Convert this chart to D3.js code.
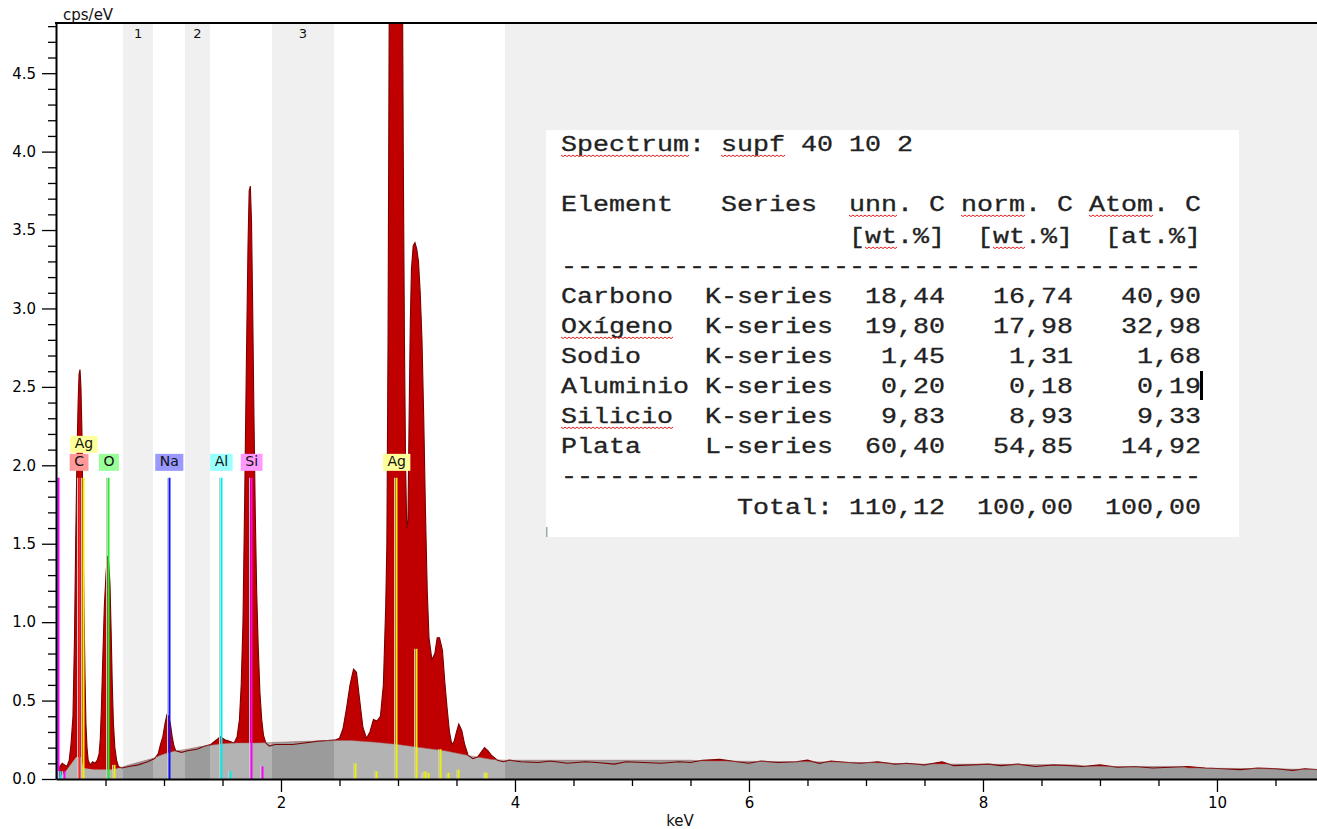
<!DOCTYPE html>
<html>
<head>
<meta charset="utf-8">
<script src="https://cdn.jsdelivr.net/npm/d3@7"></script>
<style>
body{margin:0;background:#fff;}
svg{display:block;font-family:"DejaVu Sans",Verdana,sans-serif;}
</style>
</head>
<body>
<div class="bod"></div>
<script>
const specKeV = [0.08,0.09,0.11,0.13,0.15,0.17,0.19,0.205,0.222,0.235,0.245,0.256,0.266,0.274,0.282,0.29,0.299,0.308,0.316,0.325,0.333,0.342,0.352,0.37,0.39,0.41,0.43,0.445,0.455,0.465,0.478,0.49,0.504,0.515,0.525,0.538,0.548,0.558,0.568,0.58,0.595,0.61,0.64,
  0.70,0.78,0.86,0.92,0.95,0.97,0.99,1.01,1.025,1.04,1.055,1.07,1.085,1.10,1.15,1.20,1.28,1.35,1.40,1.45,1.48,1.52,1.56,1.60,1.625,1.645,1.66,1.675,1.69,1.705,1.718,1.728,1.738,1.748,1.758,1.769,1.78,1.792,1.805,1.82,1.835,1.85,1.87,1.90,1.95,2.0,2.1,2.2,2.3,2.4,2.47,
  2.50,2.53,2.56,2.59,2.62,2.645,2.67,2.70,2.73,2.76,2.79,2.82,2.85,2.875,2.895,2.905,2.915,2.925,2.935,2.95,2.98,3.01,3.035,3.045,3.055,3.065,3.075,3.085,3.095,3.105,3.115,3.13,3.145,3.16,3.175,3.19,3.205,3.22,3.235,3.25,3.265,3.29,3.315,3.335,3.355,3.38,3.40,3.42,3.44,3.46,3.48,3.50,3.52,3.545,3.57,3.60,3.64,3.68,3.71,3.74,3.77,3.80,3.85,3.90,
  3.95,4.05,4.2,4.3,4.45,4.6,4.7,4.85,4.95,5.1,5.25,5.4,5.5,5.6,5.75,5.9,6.0,6.1,6.25,6.4,6.5,6.6,6.7,6.85,6.95,7.1,7.25,7.35,7.5,7.65,7.75,7.9,8.05,8.15,8.3,8.45,8.6,8.75,8.85,9.0,9.15,9.3,9.45,9.6,9.75,9.9,10.05,10.2,10.35,10.5,10.65,10.75,10.86]
const specCps = [0,0.02,0.08,0.10,0.09,0.08,0.12,0.22,0.40,0.90,1.50,2.05,2.40,2.58,2.61,2.50,2.20,1.60,1.10,0.65,0.35,0.20,0.12,0.09,0.11,0.10,0.12,0.16,0.25,0.45,0.80,1.10,1.30,1.42,1.40,1.25,0.95,0.60,0.35,0.20,0.12,0.08,0.07,
  0.08,0.09,0.11,0.13,0.16,0.22,0.27,0.36,0.41,0.40,0.35,0.27,0.21,0.18,0.17,0.18,0.19,0.21,0.22,0.25,0.27,0.25,0.24,0.23,0.27,0.38,0.60,1.0,1.8,2.7,3.4,3.75,3.78,3.55,3.0,2.3,1.7,1.2,0.85,0.55,0.38,0.28,0.23,0.21,0.22,0.22,0.22,0.23,0.24,0.245,0.25,
  0.26,0.32,0.45,0.60,0.70,0.68,0.52,0.33,0.26,0.30,0.38,0.37,0.40,0.60,1.10,1.5,2.8,4.9,6.2,6.8,7.0,6.6,5.6,4.0,2.8,2.0,1.6,1.65,2.3,2.9,3.25,3.4,3.42,3.38,3.3,3.1,2.8,2.3,1.7,1.2,0.9,0.76,0.8,0.9,0.90,0.82,0.62,0.45,0.30,0.22,0.24,0.30,0.35,0.31,0.22,0.15,0.13,0.14,0.17,0.20,0.18,0.15,0.12,0.11,0.12,
  0.11,0.105,0.115,0.10,0.11,0.105,0.095,0.11,0.105,0.10,0.11,0.105,0.12,0.125,0.11,0.10,0.115,0.105,0.11,0.12,0.10,0.115,0.105,0.10,0.11,0.095,0.10,0.09,0.11,0.085,0.09,0.095,0.085,0.095,0.08,0.09,0.085,0.08,0.09,0.075,0.08,0.07,0.075,0.08,0.07,0.065,0.06,0.07,0.065,0.055,0.065,0.06,0.055]

//fitted background
const bgKeV = [0.08,0.10,0.15,0.20,0.25,0.29,0.31,0.40,0.55,0.62,0.70,0.80,0.90,1.00,1.10,1.20,1.30,1.40,1.50,1.60,1.80,2.0,2.2,2.45,2.6,2.8,3.0,3.2,3.4,3.6,3.8,3.92,4.5,5.5,5.6,6.5,7.0,7.4,8.0,8.8,8.9,9.7,9.75,10.5,10.86]
const bgCps = [0,0.01,0.04,0.09,0.14,0.14,0.07,0.06,0.06,0.07,0.09,0.11,0.13,0.16,0.18,0.19,0.205,0.215,0.225,0.23,0.23,0.235,0.24,0.245,0.245,0.235,0.22,0.20,0.18,0.15,0.125,0.12,0.12,0.12,0.115,0.11,0.105,0.095,0.095,0.09,0.08,0.08,0.07,0.065,0.06]

//regions
const bandName = ['1','2','3','']
const bandStart = [0.65,1.179,1.923,3.915]
const bandEnd = [0.906,1.393,2.453,10.86]

//element line markers
const markerEl = ['Al','Si','Al','Si','C','Ag','O','Ag','Na','Al','Al','Si','Si','Ag','Ag','Ag','Ag','Ag','Ag','Ag','Ag','Ag','Ag','Ag','Ag']
const markerKeV = [0.083,0.092,0.111,0.145,0.270,0.311,0.525,0.573,1.041,1.486,1.564,1.745,1.838,2.632,2.812,2.984,3.154,3.214,3.231,3.256,3.359,3.427,3.513,3.744,3.752]
const markerCps = [1.92,1.92,0.05,0.05,1.92,1.92,1.92,0.09,1.92,1.92,0.05,1.92,0.08,0.10,0.05,1.92,0.83,0.04,0.05,0.04,0.19,0.04,0.06,0.04,0.04]

const labelEl = ['Ag','C','O','Na','Al','Si','Ag']
const labelKeV = [0.311,0.270,0.525,1.041,1.486,1.745,2.984]
const labelLevel = [1,0,0,0,0,0,0]

const yMajor = [0,0.5,1,1.5,2,2.5,3,3.5,4,4.5]
const xMajor = [2,4,6,8,10]
const xMinor = [0.5,1,1.5,2.5,3,3.5,4.5,5,5.5,6.5,7,7.5,8.5,9,9.5,10.5]

//quantification table
const tblTitle = 'Spectrum: supf 40 10 2'
const tblElement = ['Carbono','Oxígeno','Sodio','Aluminio','Silicio','Plata']
const tblSeries = ['K-series','K-series','K-series','K-series','K-series','L-series']
const tblUnn = ['18,44','19,80','1,45','0,20','9,83','60,40']
const tblNorm = ['16,74','17,98','1,31','0,18','8,93','54,85']
const tblAtom = ['40,90','32,98','1,68','0,19','9,33','14,92']
const tblTotal = ['110,12','100,00','100,00']

const elColor = {
  Ag:{line:'#f0f000',box:'#ffff99'},
  C:{line:'#ff2a2a',box:'#ff9999'},
  O:{line:'#22ee22',box:'#99ff99'},
  Na:{line:'#1010ff',box:'#9999ff'},
  Al:{line:'#00eeee',box:'#99ffff'},
  Si:{line:'#ff00ff',box:'#ff99ff'}
}

const W = 1317, H = 829
const plot = {left:56, right:1317, top:23, bottom:779}

const svg = d3.select('.bod').append('svg')
  .attr('width',W).attr('height',H)

const x = d3.scaleLinear().domain([0.0769,10.855]).range([plot.left,plot.right])
const y = d3.scaleLinear().domain([0,4.82]).range([plot.bottom,plot.top])

const defs = svg.append('defs')
defs.append('clipPath').attr('id','plotClip')
  .append('rect').attr('x',plot.left).attr('y',plot.top)
  .attr('width',plot.right-plot.left).attr('height',plot.bottom-plot.top)
defs.append('clipPath').attr('id','bandClip')
  .selectAll('rect').data(bandStart).enter().append('rect')
  .attr('x',(d)=>x(d)).attr('y',plot.top)
  .attr('width',(d,i)=>x(bandEnd[i])-x(d)).attr('height',plot.bottom-plot.top)

const g = svg.append('g').attr('clip-path','url(#plotClip)')
g.append('rect').attr('x',plot.left).attr('y',plot.top)
  .attr('width',plot.right-plot.left).attr('height',plot.bottom-plot.top).attr('fill','#fff')
g.selectAll('.band').data(bandStart).enter().append('rect')
  .attr('class','band')
  .attr('x',(d)=>x(d)).attr('y',plot.top)
  .attr('width',(d,i)=>x(bandEnd[i])-x(d)).attr('height',plot.bottom-plot.top)
  .attr('fill','#f0f0f0')

const spec = specKeV.map((k,i)=>[k,specCps[i]])
const bg = bgKeV.map((k,i)=>[k,bgCps[i]])
const area = d3.area().x(d=>x(d[0])).y0(y(0)).y1(d=>y(d[1]))
const line = d3.line().x(d=>x(d[0])).y(d=>y(d[1]))

//spectrum fill
g.append('path').datum(spec).attr('d',area).attr('fill','#c00000')
//background fill, darker inside the regions
g.append('path').datum(bg).attr('d',area).attr('fill','#b3b3b3')
g.append('path').datum(bg).attr('d',area).attr('fill','#9b9b9b').attr('clip-path','url(#bandClip)')
//spectrum outline
g.append('path').datum(spec).attr('d',line).attr('fill','none')
  .attr('stroke','#7a0000').attr('stroke-width',1.1)
g.append('path').datum(bg.filter(d=>d[0]>0.6)).attr('d',line).attr('fill','none')
  .attr('stroke','#a06060').attr('stroke-width',0.8).attr('opacity',0.6)

//marker lines
const markers = g.selectAll('.marker').data(markerKeV).enter().append('g').attr('class','marker')
markers.append('line')
  .attr('x1',d=>Math.round(x(d))-1.5).attr('x2',d=>Math.round(x(d))-1.5)
  .attr('y1',y(0)).attr('y2',(d,i)=>y(markerCps[i]))
  .attr('stroke','#c8c8c8').attr('stroke-width',1)
markers.append('line')
  .attr('x1',d=>Math.round(x(d))+0.5).attr('x2',d=>Math.round(x(d))+0.5)
  .attr('y1',y(0)).attr('y2',(d,i)=>y(markerCps[i]))
  .attr('stroke',(d,i)=>elColor[markerEl[i]].line).attr('stroke-width',2)

//element labels
const labels = svg.selectAll('.lab').data(labelKeV).enter().append('g').attr('class','lab')
labels.append('rect')
labels.append('text')
  .attr('x',d=>x(d)+0.5)
  .attr('y',(d,i)=>y(1.92)-12-labelLevel[i]*18)
  .attr('text-anchor','middle')
  .attr('font-size',14)
  .attr('fill','#111')
  .text((d,i)=>labelEl[i])
labels.each(function(d,i){
  const t = d3.select(this).select('text')
  const w = t.node().getComputedTextLength()+9
  d3.select(this).select('rect')
    .attr('x',x(d)+0.5-w/2).attr('y',y(1.92)-24-labelLevel[i]*18)
    .attr('width',w).attr('height',17)
    .attr('fill',elColor[labelEl[i]].box)
})

//region numbers
svg.selectAll('.bandName').data(bandStart).enter().append('text')
  .attr('x',(d,i)=>(x(d)+x(bandEnd[i]))/2)
  .attr('y',38)
  .attr('text-anchor','middle').attr('font-size',13).attr('fill','#111')
  .text((d,i)=>bandName[i])

//axes
svg.append('g').attr('transform',`translate(${plot.left},0)`)
  .call(d3.axisLeft(y).tickValues(yMajor).tickSize(14).tickSizeOuter(0).tickPadding(6).tickFormat(d3.format('.1f')))
const yMinor = d3.range(1,49).filter(v=>v%5!=0).map(v=>v/10)
svg.append('g').attr('transform',`translate(${plot.left},0)`)
  .call(d3.axisLeft(y).tickValues(yMinor).tickSize(8).tickFormat(''))
  .call(a=>a.select('.domain').remove())
svg.append('g').attr('transform',`translate(0,${plot.bottom})`)
  .call(d3.axisBottom(x).tickValues(xMajor).tickSize(13).tickSizeOuter(0).tickPadding(5).tickFormat(d3.format('d')))
svg.append('g').attr('transform',`translate(0,${plot.bottom})`)
  .call(d3.axisBottom(x).tickValues(xMinor).tickSize(7).tickFormat(''))
  .call(a=>a.select('.domain').remove())
svg.selectAll('.tick text').attr('font-size',15).attr('font-family','"DejaVu Sans",Verdana,sans-serif').attr('fill','#000')
svg.selectAll('.tick line').attr('stroke','#000').attr('stroke-width',1.3)
svg.selectAll('.domain').attr('stroke','#000').attr('stroke-width',2)
//top frame
svg.append('line').attr('x1',plot.left-1).attr('x2',plot.right).attr('y1',plot.top).attr('y2',plot.top)
  .attr('stroke','#000').attr('stroke-width',2)

svg.append('text').attr('x',63).attr('y',20).attr('font-size',15).attr('fill','#111').text('cps/eV')
svg.append('text').attr('x',680).attr('y',826).attr('text-anchor','middle').attr('font-size',15).attr('fill','#111').text('keV')

//quantification table (pasted text box)
const tb = svg.append('g')
tb.append('rect').attr('x',546).attr('y',130).attr('width',693).attr('height',407).attr('fill','#fff')
tb.append('rect').attr('x',546).attr('y',527).attr('width',1.5).attr('height',10).attr('fill','#9aa')
const cw = 16, tx = 561
const pad = (s,n)=>s.padEnd(n,' ')
const lpad = (s,n)=>s.padStart(n,' ')
const rows = [
  [tblTitle,151],
  ['Element   Series  unn. C norm. C Atom. C',211],
  ['                  [wt.%]  [wt.%]  [at.%]',243],
  ['-'.repeat(40),273],
]
tblElement.forEach((e,i)=>{
  rows.push([pad(e,9)+tblSeries[i]+lpad(tblUnn[i],7)+lpad(tblNorm[i],8)+lpad(tblAtom[i],8),303+i*30])
})
rows.push(['-'.repeat(40),483])
rows.push([' '.repeat(11)+'Total:'+lpad(tblTotal[0],7)+lpad(tblTotal[1],8)+lpad(tblTotal[2],8),514])
rows.forEach(r=>{
  const s = r[0].replace(/\s+$/,'')
  tb.append('text')
    .attr('x',tx).attr('y',r[1])
    .attr('xml:space','preserve')
    .attr('font-family','"Liberation Mono","DejaVu Sans Mono",monospace')
    .attr('font-size',22)
    .attr('fill','#222')
    .attr('stroke','#222').attr('stroke-width',0.3)
    .attr('textLength',s.length*cw).attr('lengthAdjust','spacingAndGlyphs')
    .text(s)
})
//spell-check squiggles: [row baseline, first col, last col]
const squig = [[151,0,7],[151,10,13],[211,18,20],[211,25,28],[211,33,36],[243,19,20],[243,27,28],[333,0,6],[423,0,6]]
squig.forEach(s=>{
  const x0 = tx+s[1]*cw, x1 = tx+(s[2]+1)*cw, yb = s[0]+4
  let p = `M${x0},${yb}`
  let k = 0
  for(let xx=x0+2; xx<=x1; xx+=2){ k++; p += ` L${xx},${yb+(k%2?1.6:0)}` }
  tb.append('path').attr('d',p).attr('fill','none').attr('stroke','#e02020').attr('stroke-width',1)
})
tb.append('rect').attr('x',1200).attr('y',371).attr('width',3).attr('height',29).attr('fill','#000')
</script>
</body>
</html>
